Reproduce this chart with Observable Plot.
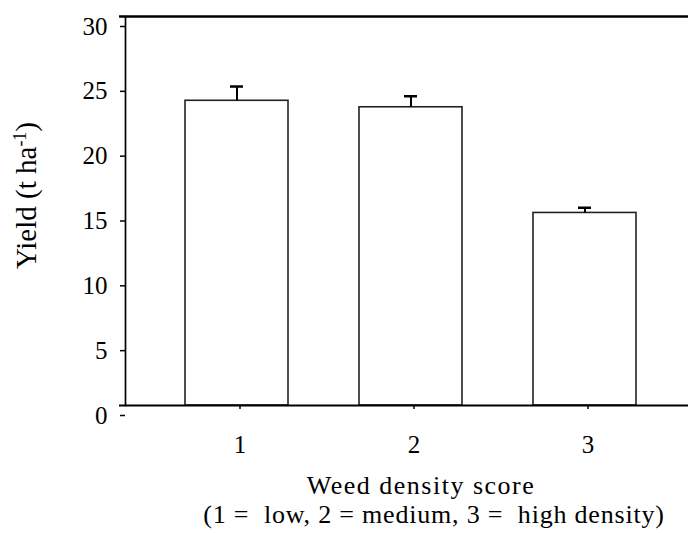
<!DOCTYPE html>
<html>
<head>
<meta charset="utf-8">
<script src="https://cdn.jsdelivr.net/npm/d3@7"></script>
<script src="https://cdn.jsdelivr.net/npm/@observablehq/plot@0.6"></script>
<style>
  html, body { margin: 0; padding: 0; background: #fff; }
  #chart svg { display: block; }
</style>
</head>
<body>
<div id="chart"></div>
<script>
const categories = ["1", "2", "3"];
const means = [23.5, 23.0, 14.85];
const errors = [1.1, 0.85, 0.4];
const yTicks = [0, 5, 10, 15, 20, 25, 30];
const yLabel = "Yield (t ha-1)";
const xTitle1 = "Weed density score";
const xTitle2 = "(1 =  low, 2 = medium, 3 =  high density)";

const data = categories.map((c, i) => ({cat: c, mean: means[i], err: errors[i], top: means[i] + errors[i]}));

const chart = Plot.plot({
  width: 688,
  height: 533,
  marginLeft: 125,
  marginRight: 0,
  marginTop: 16,
  marginBottom: 128,
  style: {fontFamily: "'Liberation Serif', 'Times New Roman', serif", color: "#000", background: "#fff", fontWeight: "normal"},
  x: {type: "band", domain: categories, range: [150, 672], paddingInner: 0.408, paddingOuter: 0.204},
  y: {domain: [0, 30]},
  marks: [
    Plot.barY(data, {x: "cat", y: "mean", fill: "#fff", stroke: "#222", strokeWidth: 1.6}),
    Plot.ruleX(data, {x: "cat", y1: "mean", y2: "top", stroke: "#000", strokeWidth: 2}),
    Plot.tickY(data, {x: "cat", y: "top", stroke: "#000", strokeWidth: 2.5, insetLeft: 45, insetRight: 45}),
    Plot.frame({anchor: "left", stroke: "#000", strokeWidth: 1.7}),
    Plot.ruleY([30], {stroke: "#000", strokeWidth: 2.5, insetLeft: -6}),
    Plot.ruleY([0], {stroke: "#000", strokeWidth: 2.2, insetLeft: -6}),
    Plot.axisY({ticks: yTicks, tickSize: 5, tickPadding: 13, fontSize: 25, dy: 10, label: null, strokeWidth: 1.5}),
    Plot.axisX({tickSize: 4, tickPadding: 26, fontSize: 25, dx: 3, label: null, strokeWidth: 1.5}),
    Plot.text([yLabel], {frameAnchor: "left", text: d => d, rotate: -90, lineAnchor: "bottom", textAnchor: "middle", dx: 35 - 125, dy: 195 - 210.5, fontSize: 29, fontWeight: "normal", fill: "#000"}),
    Plot.text([xTitle1], {frameAnchor: "bottom", text: d => d, lineAnchor: "bottom", textAnchor: "middle", dx: 420.5 - 406.5, dy: 88, fontSize: 26, fill: "#000"}),
    Plot.text([xTitle2], {frameAnchor: "bottom", text: d => d, lineAnchor: "bottom", textAnchor: "middle", dx: 433.5 - 406.5, dy: 117, fontSize: 26, fill: "#000"})
  ]
});

// superscript for the unit in the y label; spacing of the x titles
d3.select(chart).selectAll("text").each(function() {
  const t = d3.select(this);
  const s = t.text();
  if (s === yLabel) {
    t.text(null);
    t.append("tspan").text("Yield (t ha");
    t.append("tspan").attr("baseline-shift", "super").attr("font-size", "0.62em").text("-1");
    t.append("tspan").text(")");
  } else if (s === xTitle1) {
    t.attr("letter-spacing", "1.5px");
  } else if (s === xTitle2) {
    t.attr("xml:space", "preserve").style("white-space", "pre").attr("letter-spacing", "0.8px");
  }
});

document.getElementById("chart").appendChild(chart);
</script>
</body>
</html>
